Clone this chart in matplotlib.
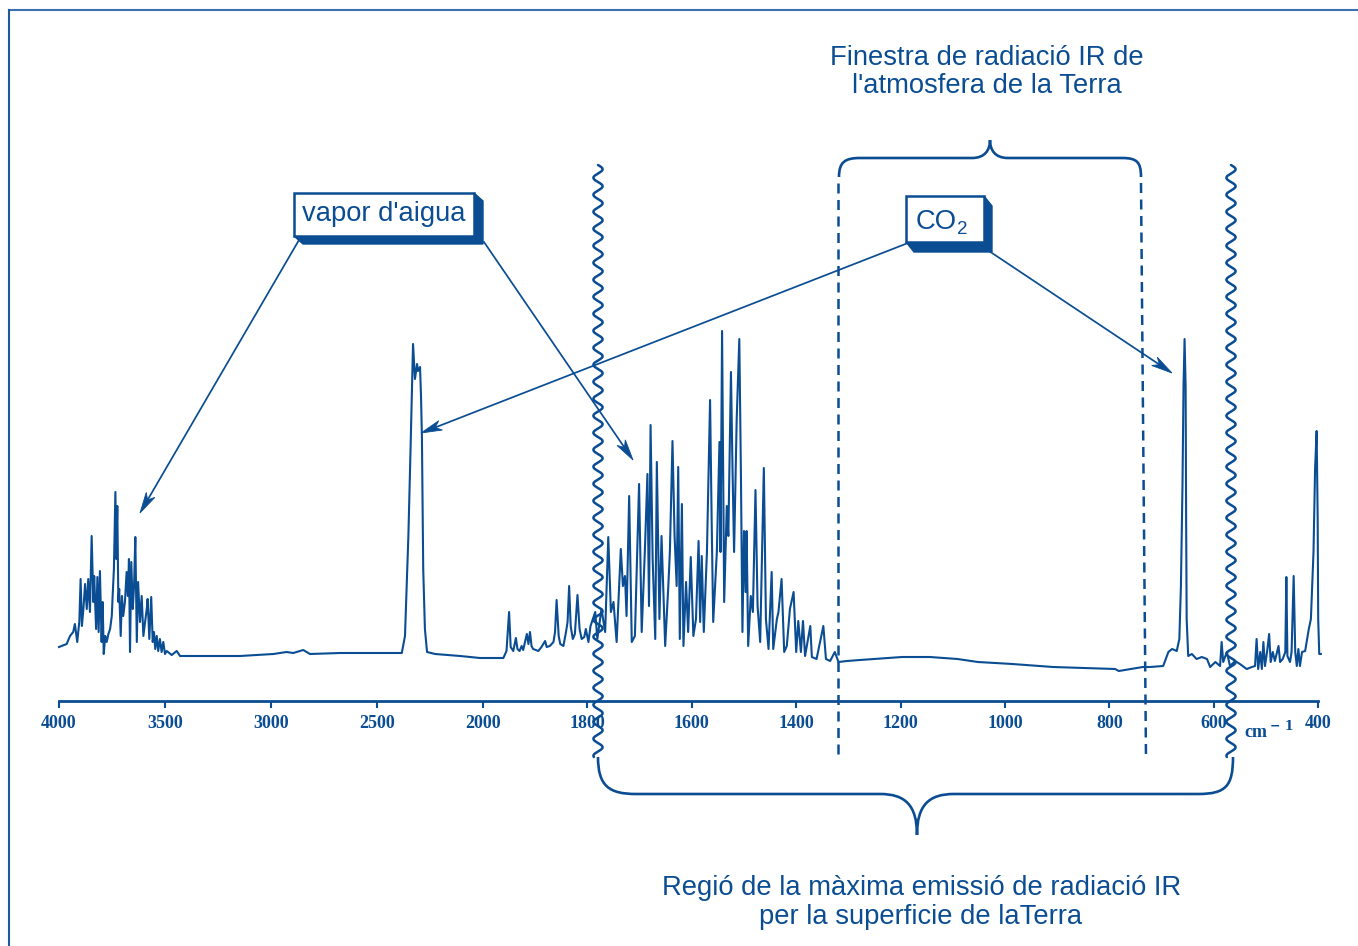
import numpy as np
import matplotlib
matplotlib.use("Agg")
import matplotlib.pyplot as plt
from matplotlib.path import Path
from matplotlib.patches import PathPatch, Polygon, Rectangle
from matplotlib.ticker import FixedLocator, FixedFormatter, NullLocator

# ---------------- data ----------------
# water-vapour band 4000-3400 cm-1, flat part and CO2 2349 band
wn_a = [4000, 3964, 3948, 3933, 3925, 3914, 3904, 3898, 3892, 3885,
        3877, 3869, 3862, 3854, 3846, 3838, 3834, 3825, 3819, 3813,
        3807, 3799, 3794, 3789, 3782, 3775, 3767, 3759, 3751, 3747,
        3741, 3734, 3730, 3725, 3720, 3716, 3709, 3703, 3697, 3689,
        3681, 3675, 3670, 3665, 3659, 3652, 3646, 3640, 3633, 3627,
        3618, 3610, 3602, 3594, 3586, 3582, 3574, 3565, 3558, 3552,
        3546, 3539, 3532, 3524, 3516, 3508, 3500, 3492, 3468, 3445,
        3429, 3303, 3146, 2989, 2926, 2895, 2848, 2816, 2675, 2517,
        2383, 2368, 2352, 2342, 2330, 2321, 2311, 2307, 2297, 2292,
        2288, 2282, 2274, 2264, 2226, 2108, 2014]
in_a = [54, 57, 65, 69, 77, 59, 80, 122, 75, 92,
        117, 92, 122, 89, 165, 99, 125, 72, 124, 69,
        130, 59, 99, 47, 65, 59, 67, 72, 85, 105,
        132, 209, 142, 195, 99, 112, 65, 105, 85, 99,
        129, 105, 142, 49, 139, 92, 115, 164, 59, 119,
        79, 105, 65, 79, 92, 102, 62, 104, 59, 69,
        52, 65, 50, 62, 49, 59, 47, 50, 46, 50,
        45, 45, 45, 47, 49, 48, 51, 47, 48, 48,
        48, 65, 165, 250, 357, 322, 337, 330, 334, 302,
        262, 132, 72, 49, 47, 45, 43]

# 2000-1790 cm-1
wn_b = [1961, 1955, 1950, 1947, 1942, 1937, 1934, 1930, 1926, 1923,
        1916, 1913, 1910, 1907, 1904, 1894, 1888, 1881, 1878, 1872,
        1865, 1862, 1859, 1855, 1852, 1846, 1841, 1838, 1835, 1832,
        1828, 1824, 1819, 1815, 1811, 1806, 1803, 1798, 1794]
in_b = [43, 50, 89, 54, 50, 63, 52, 50, 55, 51,
        67, 57, 69, 55, 52, 50, 54, 60, 54, 55,
        59, 69, 101, 65, 57, 55, 69, 79, 115, 75,
        62, 67, 106, 72, 62, 64, 72, 59, 75]

# water-vapour bending band 1790-1280 cm-1
wn_c = [1785, 1781, 1773, 1766, 1760, 1755, 1750, 1744, 1736, 1732,
        1728, 1725, 1720, 1715, 1709, 1701, 1696, 1690, 1685, 1682,
        1679, 1675, 1670, 1667, 1662, 1658, 1651, 1645, 1642, 1637,
        1633, 1629, 1626, 1623, 1619, 1616, 1611, 1607, 1602, 1597,
        1592, 1587, 1584, 1581, 1577, 1571, 1565, 1562, 1559, 1552,
        1547, 1545, 1542, 1538, 1533, 1530, 1525, 1522, 1519, 1514,
        1509, 1506, 1503, 1500, 1497, 1495, 1492, 1487, 1483, 1478,
        1474, 1469, 1462, 1458, 1453, 1447, 1444, 1437, 1434, 1428,
        1423, 1418, 1412, 1405, 1400, 1396, 1391, 1387, 1383, 1373,
        1370, 1361, 1348, 1343, 1335, 1326, 1319, 1303, 1278]
in_c = [89, 62, 92, 69, 164, 89, 99, 59, 152, 115,
        125, 85, 205, 59, 65, 217, 69, 149, 227, 95,
        276, 142, 62, 239, 82, 165, 55, 115, 149, 260,
        165, 115, 234, 62, 197, 55, 119, 69, 144, 65,
        82, 160, 79, 145, 69, 149, 301, 182, 79, 149,
        259, 149, 370, 99, 195, 165, 329, 232, 149, 282,
        362, 232, 69, 170, 109, 170, 55, 105, 89, 211,
        95, 59, 233, 82, 52, 129, 52, 82, 89, 122,
        49, 55, 92, 109, 49, 80, 49, 80, 45, 75,
        44, 42, 75, 42, 40, 49, 39, 40, 41]

# atmospheric window, CO2 667 band and 600-400 cm-1
wn_d = [1197, 1144, 1091, 1052, 986, 908, 789, 782, 736, 722,
        697, 687, 680, 671, 666, 663, 660, 658, 656, 654,
        653, 652, 649, 642, 633, 623, 613, 607, 597, 588,
        585, 582, 575, 569, 559, 550, 537, 527, 521, 518,
        515, 511, 508, 505, 502, 498, 494, 491, 487, 483,
        476, 473, 468, 463, 461, 459, 454, 451, 447, 444,
        441, 438, 435, 431, 425, 418, 414, 409, 406, 403,
        401, 400, 398, 395]
in_d = [44, 44, 42, 39, 37, 34, 32, 30, 34, 34,
        35, 49, 52, 50, 62, 115, 215, 315, 362, 315,
        182, 82, 45, 47, 42, 44, 42, 34, 39, 35,
        59, 39, 49, 35, 40, 37, 32, 34, 35, 62,
        32, 49, 32, 59, 35, 49, 67, 39, 49, 40,
        55, 39, 42, 49, 124, 45, 39, 49, 125, 49,
        35, 52, 35, 49, 50, 72, 82, 149, 232, 270,
        182, 82, 47, 47]

tick_values = [4000, 3500, 3000, 2500, 2000, 1800, 1600, 1400, 1200, 1000, 800, 600, 400]
tick_labels = [str(v) for v in tick_values]

title_top = ["Finestra de radiació IR de", "l'atmosfera de la Terra"]
title_bottom = ["Regió de la màxima emissió de radiació IR", "per la superficie de laTerra"]
label_water = "vapor d'aigua"

wavenumber = wn_a + wn_b + wn_c + wn_d
intensity = in_a + in_b + in_c + in_d

# ---------------- figure ----------------
BLUE = "#0b4d93"
FW, FH = 1358, 946
fig = plt.figure(figsize=(FW / 100, FH / 100), dpi=100)
fig.patch.set_facecolor("white")

X4000 = 59.0      # pixel of 4000 cm-1
S_HI = 0.212      # px per cm-1 above 2000
S_LO = 0.522      # px per cm-1 below 2000
BREAK = 2000.0
P_BREAK = (4000.0 - BREAK) * S_HI


def fwd(w):
    w = np.asarray(w, dtype=float)
    p = np.where(w >= BREAK, (4000.0 - w) * S_HI, P_BREAK + (BREAK - w) * S_LO)
    return -p


def inv(q):
    p = -np.asarray(q, dtype=float)
    return np.where(p <= P_BREAK, 4000.0 - p / S_HI, BREAK - (p - P_BREAK) / S_LO)


AXIS_Y = 701.0
ax = fig.add_axes([0, 0, 1, 1])
ax.set_xscale("function", functions=(fwd, inv))
ax.set_xlim(float(inv(X4000)), float(inv(-(FW - X4000))))
ax.set_ylim(AXIS_Y - FH, AXIS_Y)
ax.plot(wavenumber, intensity, color=BLUE, lw=1.5, solid_joinstyle="round")

for s in ("top", "left", "right"):
    ax.spines[s].set_visible(False)
ax.spines["bottom"].set_position(("data", 0))
ax.spines["bottom"].set_bounds(400, 4000)
ax.spines["bottom"].set_linewidth(2.0)
ax.spines["bottom"].set_color(BLUE)
ax.set_yticks([])
ax.xaxis.set_major_locator(FixedLocator(tick_values))
ax.xaxis.set_major_formatter(FixedFormatter(tick_labels))
ax.xaxis.set_minor_locator(NullLocator())
ax.tick_params(axis="x", direction="out", length=5, width=1.5, color=BLUE,
               labelcolor=BLUE, labelsize=13, pad=5)
for lab in ax.get_xticklabels():
    lab.set_fontfamily("Liberation Serif")
    lab.set_fontweight("bold")

# ---------------- overlay in pixel coordinates ----------------
ov = fig.add_axes([0, 0, 1, 1])
ov.set_xlim(0, FW)
ov.set_ylim(FH, 0)
ov.axis("off")

# frame
ov.plot([9, FW], [10, 10], color="#3a72b0", lw=1.5)
ov.plot([9, 9], [10, FH], color="#1f5a9e", lw=1.5)


def wavy(xc, y0, y1, amp=4.6, period=17.0):
    y = np.linspace(y0, y1, 1500)
    x = xc + amp * np.sin(2 * np.pi * (y - y0) / period)
    ov.plot(x, y, color=BLUE, lw=1.8, solid_capstyle="round")


wavy(598, 165, 757)
wavy(1231, 165, 757)

# dashed window lines
ov.plot([838, 838], [183, 760], color=BLUE, lw=1.8, dashes=(4, 2.6))
ov.plot([1141, 1146], [183, 760], color=BLUE, lw=1.8, dashes=(4, 2.6))

M, C4, L = Path.MOVETO, Path.CURVE4, Path.LINETO

# top brace
top_v = [(839, 177), (839, 162), (845, 158), (860, 158), (972, 158),
         (985, 158), (990, 150), (990, 140),
         (990, 150), (995, 158), (1008, 158), (1122, 158),
         (1137, 158), (1141, 162), (1141, 177)]
top_c = [M, C4, C4, C4, L, C4, C4, C4, C4, C4, C4, L, C4, C4, C4]
ov.add_patch(PathPatch(Path(top_v, top_c), fc="none", ec=BLUE, lw=1.9))

# bottom brace
bot_v = [(598, 757), (598, 786), (609, 794), (636, 794), (880, 794),
         (905, 794), (917, 805), (917, 835),
         (917, 805), (929, 794), (954, 794), (1198, 794),
         (1226, 794), (1233, 786), (1233, 757)]
bot_c = [M, C4, C4, C4, L, C4, C4, C4, C4, C4, C4, L, C4, C4, C4]
ov.add_patch(PathPatch(Path(bot_v, bot_c), fc="none", ec=BLUE, lw=1.9))


def box3d(x0, y0, x1, y1, dx, dy):
    shadow = Polygon([(x1, y0), (x1 + dx, y0 + dy), (x1 + dx, y1 + dy),
                      (x0 + dx, y1 + dy), (x0, y1), (x1, y1)],
                     closed=True, fc=BLUE, ec=BLUE, lw=1)
    ov.add_patch(shadow)
    ov.add_patch(Rectangle((x0, y0), x1 - x0, y1 - y0, fc="white", ec=BLUE, lw=1.8))


def arrow(x0, y0, x1, y1, length=21.0, half=5.0):
    d = np.array([x1 - x0, y1 - y0], dtype=float)
    u = d / np.hypot(*d)
    n = np.array([-u[1], u[0]])
    tip = np.array([x1, y1], dtype=float)
    back = tip - length * u
    notch = tip - 0.72 * length * u
    ov.plot([x0, notch[0]], [y0, notch[1]], color=BLUE, lw=1.25)
    ov.add_patch(Polygon([tip, back + half * n, notch, back - half * n],
                         closed=True, fc=BLUE, ec=BLUE, lw=0.6))


# arrows (drawn before the boxes)
arrow(299, 240, 140, 513)
arrow(484, 242, 633, 460)
arrow(908, 243, 421, 433)
arrow(989, 251, 1172, 373)

box3d(294, 193, 474, 236, 9, 8)
box3d(906, 196, 984, 242, 8, 10)

FS = 19.7
TXT = dict(color=BLUE, family="Liberation Sans")
ov.text(302, 221, label_water, ha="left", va="baseline", fontsize=FS, **TXT)
ov.text(916, 229, "CO", ha="left", va="baseline", fontsize=FS, **TXT)
ov.text(957, 234, "2", ha="left", va="baseline", fontsize=13.5, **TXT)

ov.text(987, 65, title_top[0], ha="center", va="baseline", fontsize=FS, **TXT)
ov.text(987, 93, title_top[1], ha="center", va="baseline", fontsize=FS, **TXT)
ov.text(922, 895, title_bottom[0], ha="center", va="baseline", fontsize=FS, **TXT)
ov.text(921, 924, title_bottom[1], ha="center", va="baseline", fontsize=FS, **TXT)

ov.text(1244, 737, "cm", ha="left", va="baseline", fontsize=13,
        color=BLUE, family="Liberation Serif", fontweight="bold")
ov.text(1270, 730, "\u2212 1", ha="left", va="baseline", fontsize=9,
        color=BLUE, family="DejaVu Serif", fontweight="bold")

fig.savefig("out.png", dpi=100, facecolor="white")
